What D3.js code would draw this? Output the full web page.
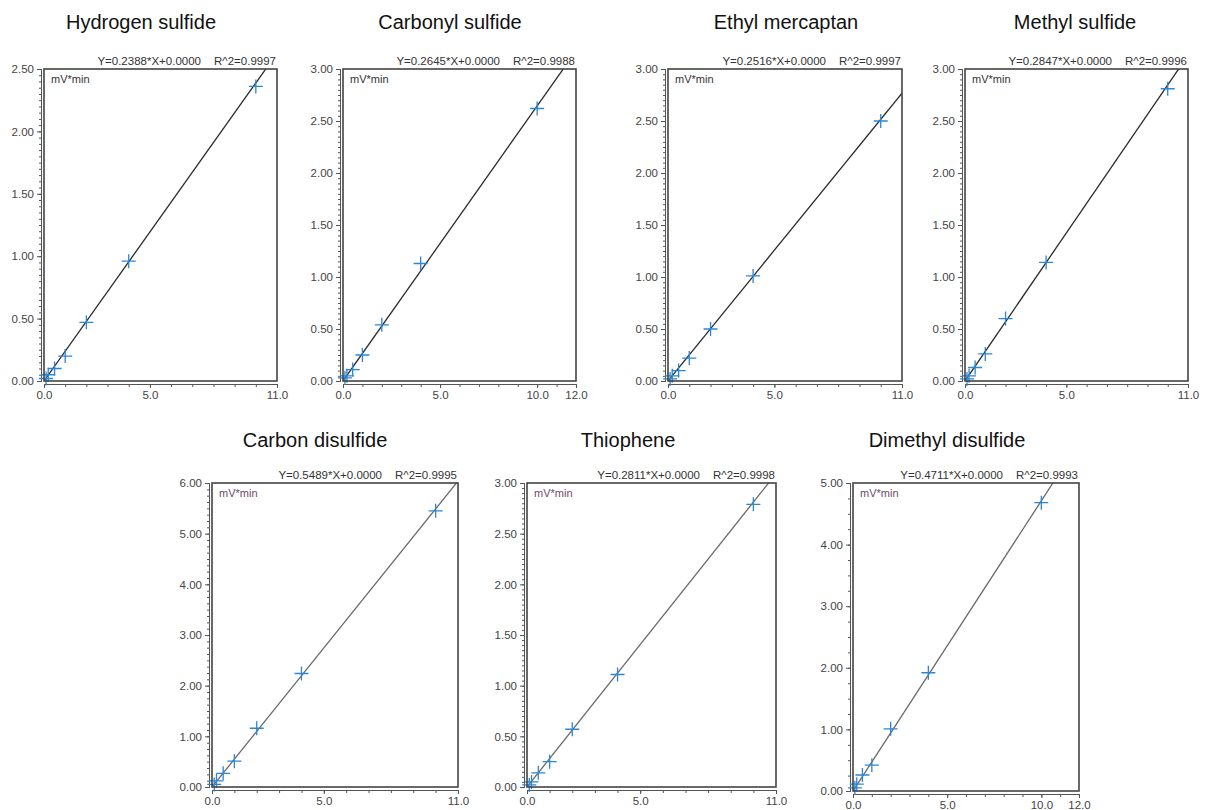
<!DOCTYPE html>
<html>
<head>
<meta charset="utf-8">
<script src="https://d3js.org/d3.v7.min.js"></script>
<style>
  body { margin: 0; background: #fff; }
  text { font-family: Arial, "Liberation Sans", sans-serif; }
</style>
</head>
<body>
<div id="chart"></div>
<script>
// Calibration data
var compounds = ["Hydrogen sulfide", "Carbonyl sulfide", "Ethyl mercaptan", "Methyl sulfide",
                 "Carbon disulfide", "Thiophene", "Dimethyl disulfide"];
var concentrations = [0.1, 0.2, 0.5, 1, 2, 4, 10];

// peak area (mV*min) per compound
var hydrogenSulfide = [0.02, 0.05, 0.10, 0.20, 0.47, 0.96, 2.36];
var carbonylSulfide = [0.03, 0.05, 0.11, 0.25, 0.54, 1.13, 2.62];
var ethylMercaptan = [0.02, 0.05, 0.10, 0.22, 0.50, 1.01, 2.50];
var methylSulfide = [0.02, 0.05, 0.13, 0.26, 0.60, 1.14, 2.81];
var carbonDisulfide = [0.05, 0.12, 0.27, 0.51, 1.16, 2.24, 5.45];
var thiophene = [0.02, 0.05, 0.14, 0.25, 0.57, 1.11, 2.79];
var dimethylDisulfide = [0.05, 0.11, 0.26, 0.42, 1.01, 1.92, 4.68];
var areas = [hydrogenSulfide, carbonylSulfide, ethylMercaptan, methylSulfide,
             carbonDisulfide, thiophene, dimethylDisulfide];

// fit results
var slopes = [0.2388, 0.2645, 0.2516, 0.2847, 0.5489, 0.2811, 0.4711];
var intercepts = [0, 0, 0, 0, 0, 0, 0];
var rSquared = ["0.9997", "0.9988", "0.9997", "0.9996", "0.9995", "0.9998", "0.9993"];

// axes
var xMax = [11, 12, 11, 11, 11, 11, 12];
var yMax = [2.5, 3, 3, 3, 6, 3, 5];
var yStep = [0.5, 0.5, 0.5, 0.5, 1, 0.5, 1];
var yMinorStep = [0.05, 0.05, 0.05, 0.05, 0.125, 0.05, 0.25];
var xTickLabels = [[0, 5, 11], [0, 5, 10, 12], [0, 5, 11], [0, 5, 11],
                   [0, 5, 11], [0, 5, 11], [0, 5, 10, 12]];

// Frame boxes of each panel on the page
var frames = [
  {left: 44, top: 69, right: 277, bottom: 381},
  {left: 343, top: 69, right: 576, bottom: 381},
  {left: 668, top: 69, right: 902, bottom: 381},
  {left: 965, top: 69, right: 1188, bottom: 381},
  {left: 212, top: 483, right: 458, bottom: 787},
  {left: 527, top: 483, right: 776, bottom: 787},
  {left: 853, top: 483, right: 1079, bottom: 791}
];
var titleX = [141, 450, 786, 1075, 315, 628, 947];

var svgWidth = 1211;
var svgHeight = 810;

var svg = d3.select("#chart")
  .append("svg")
  .attr("width", svgWidth)
  .attr("height", svgHeight);

svg.append("rect")
  .attr("width", svgWidth)
  .attr("height", svgHeight)
  .attr("fill", "#fff");

var defs = svg.append("defs");

compounds.forEach(function(name, i) {
  var f = frames[i];
  var bottomRow = i >= 4;
  var lineColor = bottomRow ? "#6a6a6a" : "#2a2a2a";

  var x = d3.scaleLinear().domain([0, xMax[i]]).range([f.left, f.right]);
  var y = d3.scaleLinear().domain([0, yMax[i]]).range([f.bottom, f.top]);

  var g = svg.append("g");

  // title
  g.append("text")
    .attr("x", titleX[i])
    .attr("y", bottomRow ? 447 : 29)
    .attr("text-anchor", "middle")
    .attr("font-size", 20)
    .attr("fill", "#111")
    .text(name);

  // equation and R^2 above the frame
  g.append("text")
    .attr("x", f.right - 1)
    .attr("y", f.top - 4)
    .attr("text-anchor", "end")
    .attr("font-size", 11.5)
    .attr("fill", "#333")
    .text("R^2=" + rSquared[i]);

  g.append("text")
    .attr("x", f.right - 76)
    .attr("y", f.top - 4)
    .attr("text-anchor", "end")
    .attr("font-size", 11.5)
    .attr("fill", "#333")
    .text("Y=" + slopes[i].toFixed(4) + "*X+" + intercepts[i].toFixed(4));

  // left axis, a few px outside the frame
  var yAxisG = g.append("g")
    .attr("transform", "translate(" + (f.left - 3) + ",0)")
    .attr("color", "#555");
  yAxisG.call(d3.axisLeft(y)
      .tickValues(d3.range(0, yMax[i] + 1e-9, yMinorStep[i]))
      .tickSize(2)
      .tickFormat(""));
  yAxisG.append("g").call(d3.axisLeft(y)
      .tickValues(d3.range(0, yMax[i] + 1e-9, yStep[i]))
      .tickSize(4)
      .tickFormat(d3.format(".2f")));
  yAxisG.selectAll("text")
    .attr("font-size", 11.5)
    .attr("fill", "#444")
    .attr("font-family", "Arial, 'Liberation Sans', sans-serif");

  // bottom axis
  var xAxisG = g.append("g")
    .attr("transform", "translate(0," + (f.bottom + 3) + ")")
    .attr("color", "#555");
  xAxisG.call(d3.axisBottom(x)
      .tickValues(d3.range(0, xMax[i] + 1e-9, 1))
      .tickSize(3)
      .tickFormat(""));
  xAxisG.append("g").call(d3.axisBottom(x)
      .tickValues(xTickLabels[i])
      .tickSize(4)
      .tickFormat(d3.format(".1f")));
  xAxisG.selectAll("text")
    .attr("font-size", 11.5)
    .attr("fill", "#444")
    .attr("font-family", "Arial, 'Liberation Sans', sans-serif");

  // clip for the fitted line
  defs.append("clipPath")
    .attr("id", "clip" + i)
    .append("rect")
    .attr("x", f.left)
    .attr("y", f.top)
    .attr("width", f.right - f.left)
    .attr("height", f.bottom - f.top);

  var fitLine = d3.line()
    .x(function(d) { return x(d); })
    .y(function(d) { return y(slopes[i] * d + intercepts[i]); });

  g.append("path")
    .datum([0, xMax[i]])
    .attr("clip-path", "url(#clip" + i + ")")
    .attr("d", fitLine)
    .attr("fill", "none")
    .attr("stroke", lineColor)
    .attr("stroke-width", 1.3);

  // calibration points as blue crosses
  var pts = concentrations.map(function(c, k) { return {x: c, y: areas[i][k]}; });
  g.selectAll(".pt")
    .data(pts)
    .enter()
    .append("path")
    .attr("class", "pt")
    .attr("transform", function(d) { return "translate(" + x(d.x) + "," + y(d.y) + ")"; })
    .attr("d", "M-7,0H7M0,-7V7")
    .attr("stroke", "#2b86d6")
    .attr("stroke-width", 1.3)
    .attr("fill", "none");

  // frame
  g.append("rect")
    .attr("x", f.left)
    .attr("y", f.top)
    .attr("width", f.right - f.left)
    .attr("height", f.bottom - f.top)
    .attr("fill", "none")
    .attr("stroke", "#444")
    .attr("stroke-width", 1.6);

  // unit label inside the frame
  g.append("text")
    .attr("x", f.left + 7)
    .attr("y", f.top + 14)
    .attr("font-size", 11)
    .attr("fill", bottomRow ? "#6e4a6a" : "#333")
    .text("mV*min");
});
</script>
</body>
</html>
